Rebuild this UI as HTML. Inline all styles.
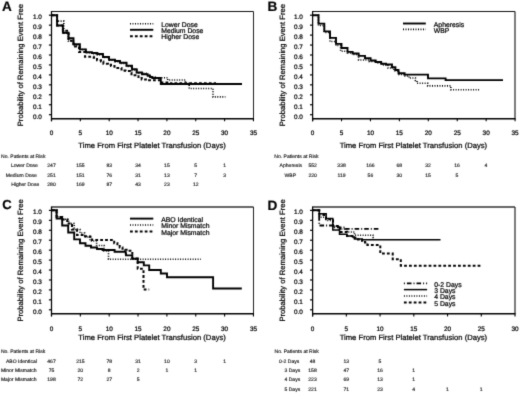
<!DOCTYPE html><html><head><meta charset="utf-8"><style>
html,body{margin:0;padding:0;background:#fff;width:520px;height:393px;overflow:hidden}
svg{filter:grayscale(1)}
svg{display:block} text{font-family:"Liberation Sans", sans-serif;fill:#222;text-rendering:geometricPrecision}
.yt{font-size:6.4px;text-anchor:end;fill:#000;stroke:#000;stroke-width:0.22px}
.xt{font-size:6.4px;text-anchor:middle;fill:#000;stroke:#000;stroke-width:0.22px}
.at{font-size:7.65px;text-anchor:middle;fill:#000;stroke:#000;stroke-width:0.22px}
.lt{font-size:13.6px;font-weight:bold;fill:#000;stroke:#000;stroke-width:0.18px}
.lg{font-size:6.85px;fill:#000;stroke:#000;stroke-width:0.22px}
.tb{font-size:5.05px;fill:#111;stroke:#111;stroke-width:0.14px}
.tn{font-size:5.05px;fill:#111;stroke:#111;stroke-width:0.14px;text-anchor:middle}
</style></head><body>
<svg width="520" height="393" viewBox="0 0 520 393">
<defs><filter id="bl" x="0" y="0" width="520" height="393" filterUnits="userSpaceOnUse" color-interpolation-filters="sRGB"><feConvolveMatrix order="3" kernelMatrix="0.01440 0.09120 0.01440 0.09120 0.57760 0.09120 0.01440 0.09120 0.01440" divisor="1" edgeMode="none"/></filter></defs>
<rect width="520" height="393" fill="#fff"/><g filter="url(#bl)">
<path d="M51.5 11.5H253.5" fill="none" stroke="#111" stroke-width="1.0"/>
<path d="M253.5 11.5V118.65" fill="none" stroke="#222" stroke-width="1.0"/>
<path d="M51.5 11V121.25" stroke="#000" stroke-width="1.25"/>
<path d="M51 118.65H254" stroke="#000" stroke-width="1.45"/>
<path d="M48.9 114.7H51.5" stroke="#000" stroke-width="1.2"/>
<text x="41.8" y="118.6" class="yt">0.0</text>
<path d="M48.9 104.75H51.5" stroke="#000" stroke-width="1.2"/>
<text x="41.8" y="108.65" class="yt">0.1</text>
<path d="M48.9 94.8H51.5" stroke="#000" stroke-width="1.2"/>
<text x="41.8" y="98.7" class="yt">0.2</text>
<path d="M48.9 84.85H51.5" stroke="#000" stroke-width="1.2"/>
<text x="41.8" y="88.75" class="yt">0.3</text>
<path d="M48.9 74.9H51.5" stroke="#000" stroke-width="1.2"/>
<text x="41.8" y="78.8" class="yt">0.4</text>
<path d="M48.9 64.95H51.5" stroke="#000" stroke-width="1.2"/>
<text x="41.8" y="68.85" class="yt">0.5</text>
<path d="M48.9 55H51.5" stroke="#000" stroke-width="1.2"/>
<text x="41.8" y="58.9" class="yt">0.6</text>
<path d="M48.9 45.05H51.5" stroke="#000" stroke-width="1.2"/>
<text x="41.8" y="48.95" class="yt">0.7</text>
<path d="M48.9 35.1H51.5" stroke="#000" stroke-width="1.2"/>
<text x="41.8" y="39" class="yt">0.8</text>
<path d="M48.9 25.15H51.5" stroke="#000" stroke-width="1.2"/>
<text x="41.8" y="29.05" class="yt">0.9</text>
<path d="M48.9 15.2H51.5" stroke="#000" stroke-width="1.2"/>
<text x="41.8" y="19.1" class="yt">1.0</text>
<path d="M51.5 118.65V121.25" stroke="#000" stroke-width="1.1"/>
<text x="51.5" y="135.45" class="xt">0</text>
<path d="M80.35 118.65V121.25" stroke="#000" stroke-width="1.1"/>
<text x="80.35" y="135.45" class="xt">5</text>
<path d="M109.2 118.65V121.25" stroke="#000" stroke-width="1.1"/>
<text x="109.2" y="135.45" class="xt">10</text>
<path d="M138.05 118.65V121.25" stroke="#000" stroke-width="1.1"/>
<text x="138.05" y="135.45" class="xt">15</text>
<path d="M166.9 118.65V121.25" stroke="#000" stroke-width="1.1"/>
<text x="166.9" y="135.45" class="xt">20</text>
<path d="M195.75 118.65V121.25" stroke="#000" stroke-width="1.1"/>
<text x="195.75" y="135.45" class="xt">25</text>
<path d="M224.6 118.65V121.25" stroke="#000" stroke-width="1.1"/>
<text x="224.6" y="135.45" class="xt">30</text>
<path d="M253.45 118.65V121.25" stroke="#000" stroke-width="1.1"/>
<text x="253.45" y="135.45" class="xt">35</text>
<text x="152.1" y="147.5" class="at">Time From First Platelet Transfusion (Days)</text>
<text transform="translate(23 65.08) rotate(-90)" x="0" y="0" class="at">Probability of Remaining Event Free</text>
<text x="2" y="10.75" class="lt">A</text>
<path d="M312.6 11.5H515" fill="none" stroke="#111" stroke-width="1.0"/>
<path d="M515 11.5V118.65" fill="none" stroke="#333" stroke-width="1.3"/>
<path d="M312.6 11V121.25" stroke="#000" stroke-width="1.25"/>
<path d="M312.1 118.65H515.5" stroke="#000" stroke-width="1.45"/>
<path d="M310 114.7H312.6" stroke="#000" stroke-width="1.2"/>
<text x="302.9" y="118.6" class="yt">0.0</text>
<path d="M310 104.75H312.6" stroke="#000" stroke-width="1.2"/>
<text x="302.9" y="108.65" class="yt">0.1</text>
<path d="M310 94.8H312.6" stroke="#000" stroke-width="1.2"/>
<text x="302.9" y="98.7" class="yt">0.2</text>
<path d="M310 84.85H312.6" stroke="#000" stroke-width="1.2"/>
<text x="302.9" y="88.75" class="yt">0.3</text>
<path d="M310 74.9H312.6" stroke="#000" stroke-width="1.2"/>
<text x="302.9" y="78.8" class="yt">0.4</text>
<path d="M310 64.95H312.6" stroke="#000" stroke-width="1.2"/>
<text x="302.9" y="68.85" class="yt">0.5</text>
<path d="M310 55H312.6" stroke="#000" stroke-width="1.2"/>
<text x="302.9" y="58.9" class="yt">0.6</text>
<path d="M310 45.05H312.6" stroke="#000" stroke-width="1.2"/>
<text x="302.9" y="48.95" class="yt">0.7</text>
<path d="M310 35.1H312.6" stroke="#000" stroke-width="1.2"/>
<text x="302.9" y="39" class="yt">0.8</text>
<path d="M310 25.15H312.6" stroke="#000" stroke-width="1.2"/>
<text x="302.9" y="29.05" class="yt">0.9</text>
<path d="M310 15.2H312.6" stroke="#000" stroke-width="1.2"/>
<text x="302.9" y="19.1" class="yt">1.0</text>
<path d="M312.6 118.65V121.25" stroke="#000" stroke-width="1.1"/>
<text x="312.6" y="135.45" class="xt">0</text>
<path d="M341.53 118.65V121.25" stroke="#000" stroke-width="1.1"/>
<text x="341.53" y="135.45" class="xt">5</text>
<path d="M370.45 118.65V121.25" stroke="#000" stroke-width="1.1"/>
<text x="370.45" y="135.45" class="xt">10</text>
<path d="M399.38 118.65V121.25" stroke="#000" stroke-width="1.1"/>
<text x="399.38" y="135.45" class="xt">15</text>
<path d="M428.3 118.65V121.25" stroke="#000" stroke-width="1.1"/>
<text x="428.3" y="135.45" class="xt">20</text>
<path d="M457.23 118.65V121.25" stroke="#000" stroke-width="1.1"/>
<text x="457.23" y="135.45" class="xt">25</text>
<path d="M486.15 118.65V121.25" stroke="#000" stroke-width="1.1"/>
<text x="486.15" y="135.45" class="xt">30</text>
<path d="M515.08 118.65V121.25" stroke="#000" stroke-width="1.1"/>
<text x="515.08" y="135.45" class="xt">35</text>
<text x="413.4" y="147.5" class="at">Time From First Platelet Transfusion (Days)</text>
<text transform="translate(285 65.08) rotate(-90)" x="0" y="0" class="at">Probability of Remaining Event Free</text>
<text x="267.4" y="10.85" class="lt">B</text>
<path d="M51.5 207H253.5" fill="none" stroke="#333" stroke-width="1.4"/>
<path d="M253.5 207V313.8" fill="none" stroke="#222" stroke-width="1.0"/>
<path d="M51.5 206.5V316.4" stroke="#000" stroke-width="1.25"/>
<path d="M51 313.8H254" stroke="#000" stroke-width="1.45"/>
<path d="M48.9 309.8H51.5" stroke="#000" stroke-width="1.2"/>
<text x="41.8" y="313.7" class="yt">0.0</text>
<path d="M48.9 299.86H51.5" stroke="#000" stroke-width="1.2"/>
<text x="41.8" y="303.76" class="yt">0.1</text>
<path d="M48.9 289.92H51.5" stroke="#000" stroke-width="1.2"/>
<text x="41.8" y="293.82" class="yt">0.2</text>
<path d="M48.9 279.98H51.5" stroke="#000" stroke-width="1.2"/>
<text x="41.8" y="283.88" class="yt">0.3</text>
<path d="M48.9 270.04H51.5" stroke="#000" stroke-width="1.2"/>
<text x="41.8" y="273.94" class="yt">0.4</text>
<path d="M48.9 260.1H51.5" stroke="#000" stroke-width="1.2"/>
<text x="41.8" y="264" class="yt">0.5</text>
<path d="M48.9 250.16H51.5" stroke="#000" stroke-width="1.2"/>
<text x="41.8" y="254.06" class="yt">0.6</text>
<path d="M48.9 240.22H51.5" stroke="#000" stroke-width="1.2"/>
<text x="41.8" y="244.12" class="yt">0.7</text>
<path d="M48.9 230.28H51.5" stroke="#000" stroke-width="1.2"/>
<text x="41.8" y="234.18" class="yt">0.8</text>
<path d="M48.9 220.34H51.5" stroke="#000" stroke-width="1.2"/>
<text x="41.8" y="224.24" class="yt">0.9</text>
<path d="M48.9 210.4H51.5" stroke="#000" stroke-width="1.2"/>
<text x="41.8" y="214.3" class="yt">1.0</text>
<path d="M51.5 313.8V316.4" stroke="#000" stroke-width="1.1"/>
<text x="51.5" y="330.6" class="xt">0</text>
<path d="M80.35 313.8V316.4" stroke="#000" stroke-width="1.1"/>
<text x="80.35" y="330.6" class="xt">5</text>
<path d="M109.2 313.8V316.4" stroke="#000" stroke-width="1.1"/>
<text x="109.2" y="330.6" class="xt">10</text>
<path d="M138.05 313.8V316.4" stroke="#000" stroke-width="1.1"/>
<text x="138.05" y="330.6" class="xt">15</text>
<path d="M166.9 313.8V316.4" stroke="#000" stroke-width="1.1"/>
<text x="166.9" y="330.6" class="xt">20</text>
<path d="M195.75 313.8V316.4" stroke="#000" stroke-width="1.1"/>
<text x="195.75" y="330.6" class="xt">25</text>
<path d="M224.6 313.8V316.4" stroke="#000" stroke-width="1.1"/>
<text x="224.6" y="330.6" class="xt">30</text>
<path d="M253.45 313.8V316.4" stroke="#000" stroke-width="1.1"/>
<text x="253.45" y="330.6" class="xt">35</text>
<text x="152.1" y="340.2" class="at">Time From First Platelet Transfusion (Days)</text>
<text transform="translate(23 260.4) rotate(-90)" x="0" y="0" class="at">Probability of Remaining Event Free</text>
<text x="2.3" y="209.4" class="lt" style="font-size:13px">C</text>
<path d="M312.6 207H515" fill="none" stroke="#333" stroke-width="1.4"/>
<path d="M515 207V313.8" fill="none" stroke="#333" stroke-width="1.3"/>
<path d="M312.6 206.5V316.4" stroke="#000" stroke-width="1.25"/>
<path d="M312.1 313.8H515.5" stroke="#000" stroke-width="1.45"/>
<path d="M310 309.8H312.6" stroke="#000" stroke-width="1.2"/>
<text x="302.9" y="313.7" class="yt">0.0</text>
<path d="M310 299.86H312.6" stroke="#000" stroke-width="1.2"/>
<text x="302.9" y="303.76" class="yt">0.1</text>
<path d="M310 289.92H312.6" stroke="#000" stroke-width="1.2"/>
<text x="302.9" y="293.82" class="yt">0.2</text>
<path d="M310 279.98H312.6" stroke="#000" stroke-width="1.2"/>
<text x="302.9" y="283.88" class="yt">0.3</text>
<path d="M310 270.04H312.6" stroke="#000" stroke-width="1.2"/>
<text x="302.9" y="273.94" class="yt">0.4</text>
<path d="M310 260.1H312.6" stroke="#000" stroke-width="1.2"/>
<text x="302.9" y="264" class="yt">0.5</text>
<path d="M310 250.16H312.6" stroke="#000" stroke-width="1.2"/>
<text x="302.9" y="254.06" class="yt">0.6</text>
<path d="M310 240.22H312.6" stroke="#000" stroke-width="1.2"/>
<text x="302.9" y="244.12" class="yt">0.7</text>
<path d="M310 230.28H312.6" stroke="#000" stroke-width="1.2"/>
<text x="302.9" y="234.18" class="yt">0.8</text>
<path d="M310 220.34H312.6" stroke="#000" stroke-width="1.2"/>
<text x="302.9" y="224.24" class="yt">0.9</text>
<path d="M310 210.4H312.6" stroke="#000" stroke-width="1.2"/>
<text x="302.9" y="214.3" class="yt">1.0</text>
<path d="M312.6 313.8V316.4" stroke="#000" stroke-width="1.1"/>
<text x="312.6" y="330.6" class="xt">0</text>
<path d="M346.34 313.8V316.4" stroke="#000" stroke-width="1.1"/>
<text x="346.34" y="330.6" class="xt">5</text>
<path d="M380.07 313.8V316.4" stroke="#000" stroke-width="1.1"/>
<text x="380.07" y="330.6" class="xt">10</text>
<path d="M413.81 313.8V316.4" stroke="#000" stroke-width="1.1"/>
<text x="413.81" y="330.6" class="xt">15</text>
<path d="M447.54 313.8V316.4" stroke="#000" stroke-width="1.1"/>
<text x="447.54" y="330.6" class="xt">20</text>
<path d="M481.28 313.8V316.4" stroke="#000" stroke-width="1.1"/>
<text x="481.28" y="330.6" class="xt">25</text>
<path d="M515.01 313.8V316.4" stroke="#000" stroke-width="1.1"/>
<text x="515.01" y="330.6" class="xt">30</text>
<text x="413.4" y="340.2" class="at">Time From First Platelet Transfusion (Days)</text>
<text transform="translate(285 260.4) rotate(-90)" x="0" y="0" class="at">Probability of Remaining Event Free</text>
<text x="267.5" y="209.7" class="lt">D</text>
<path d="M51.5 15.2H57.1V21.1H63.8V33.2H68.3V41H73.4V45.5H80V49.5H86V52.8H92V53.8H97.4V55H103V57.5H109V60.2H115V61.8H120V63.5H126.5V66.5H132V70H137V73.3H146V75H150.8V77H155V77.7H167.7V80H185.4V83.5H189.2V88.5H213V96.9H225.4" stroke="#000" stroke-width="1.6" fill="none" stroke-dasharray="1 1.5"/>
<path d="M51.5 15.2H57.1V25.5H62.9V30.8H68.6V40.8H73.5V46.5H79V52H85V56.8H93.7V57.7H97V60.2H101V61.4H103.4V63.7H108V64.8H111V66H114.5V67.9H121.5V70.6H125.5V71.1H130V72.5H131.5V75.2H138.5V78H141.7V79.4H147.7V80.3H161.5V82.5H170V83.3H216" stroke="#000" stroke-width="2" fill="none" stroke-dasharray="2.8 2.1"/>
<path d="M51.5 15.2H57.1V25.5H62.9V32.7H68.5V38.3H73.5V44.3H79.9V49.4H85.9V52.2H91.9V53H97.4V54H103V57H109V59.7H115V61H120V62.7H126.5V65.7H132V69.3H136.6V72.5H142V74.3H147.7V75.8H150V77H152.3V78H160.8V84H242" stroke="#000" stroke-width="1.9" fill="none"/>
<path d="M312.7 15.2H318.5V25.5H324.3V32.5H330V41.5H336V45.5H340.6V51.2H347.5V53H352.6V54.5H358.6V60H369V61.5H376V63H382V65H388V68H394V71H399V74.5H405V76H409V78H415.4V80.5H417V83.3H427.7V85.9H450.8V89.8H480" stroke="#000" stroke-width="1.6" fill="none" stroke-dasharray="1 1.5"/>
<path d="M312.7 15.2H318.5V23.6H324.3V31.4H330V37.9H336V43.9H341.5V48H347.5V51.9H352.6V53.5H358.6V55.9H365V58.2H370.6V60.5H375.7V62H381.2V63.7H386V64.5H392V67.2H395.4V70H398.5V73.2H404.6V74.6H428V78.4H445.6V80.1H503" stroke="#000" stroke-width="1.9" fill="none"/>
<path d="M51.5 210.3H56.6V216.8H62.2V219.2H68.6V223.5H74.2V229.5H80V233H84.6V237H90V241H96.6V245.5H104V251H108.5V259.2H200.8" stroke="#000" stroke-width="1.6" fill="none" stroke-dasharray="1 1.5"/>
<path d="M51.5 210.3H56.6V217H62.2V219.5H67.2V223.5H72V229.5H77V235H85V236.3H89.7V236.8H92V240H114.2V243.2H117.4V244.2H119.7V247.4H122.5V248.8H125V249.7H128V250.8H132.3V258.5H137.7V268.8H143.5V289.6H149.2" stroke="#000" stroke-width="2" fill="none" stroke-dasharray="2.8 2.1"/>
<path d="M51.5 210.3H56.6V218.6H62.2V225.5H68.2V232.5H74.2V239.4H80V243.3H85.5V245.8H91V247.5H97V249H102.6V250H114.6V251.8H125.7V253.5H126V255.4H132.3V258.8H137.7V262.3H143.8V265.4H149.2V270H160.8V273.5H167V277.2H213.1V288.5H241.8" stroke="#000" stroke-width="1.9" fill="none"/>
<path d="M312.5 210.3H319.3V217.2H326V220.5H333V226H339V229H347V232H354.5V235.2H373V237.5H375" stroke="#000" stroke-width="1.6" fill="none" stroke-dasharray="1 1.5"/>
<path d="M312.5 210.3H319.3V215H326V219H333V226H340V232H347V236H354.5V237.8H358V239.4H362V240.8H365V242.6H367.4V245H380.3V253.5H392.7V259.2H400.8V265.7H480.4" stroke="#000" stroke-width="2" fill="none" stroke-dasharray="2.8 2.1"/>
<path d="M312.5 210.3H319.2V225.5H334.6V227.3H345.2V228.8H378.5" stroke="#000" stroke-width="1.8" fill="none" stroke-dasharray="1 2 4.6 2"/>
<path d="M312.5 210.3H319.3V213.8H326.2V218.4H332.8V229.9H339.5V234.2H347V236H352.6V237H354.5V239H362V239.8H440.5" stroke="#000" stroke-width="1.5" fill="none"/>
<path d="M130 23.8H153.3" stroke="#000" stroke-width="1.6" fill="none" stroke-dasharray="1 1.5"/>
<text x="161.2" y="26.9" class="lg">Lower Dose</text>
<path d="M130 29.8H153.3" stroke="#000" stroke-width="1.9" fill="none"/>
<text x="161.2" y="32.9" class="lg">Medium Dose</text>
<path d="M130 36.2H153.3" stroke="#000" stroke-width="2" fill="none" stroke-dasharray="2.8 2.1"/>
<text x="161.2" y="39.3" class="lg">Higher Dose</text>
<path d="M403 23.5H425.8" stroke="#000" stroke-width="1.9" fill="none"/>
<text x="433.8" y="26.6" class="lg">Apheresis</text>
<path d="M403 29.4H425.8" stroke="#000" stroke-width="1.6" fill="none" stroke-dasharray="1 1.5"/>
<text x="433.8" y="32.5" class="lg">WBP</text>
<path d="M130 218.6H153.3" stroke="#000" stroke-width="1.9" fill="none"/>
<text x="161.2" y="221.7" class="lg">ABO Identical</text>
<path d="M130 225H153.3" stroke="#000" stroke-width="1.6" fill="none" stroke-dasharray="1 1.5"/>
<text x="161.2" y="228.1" class="lg">Minor Mismatch</text>
<path d="M130 231.5H153.3" stroke="#000" stroke-width="2" fill="none" stroke-dasharray="2.8 2.1"/>
<text x="161.2" y="234.6" class="lg">Major Mismatch</text>
<path d="M403.9 283.4H427.1" stroke="#000" stroke-width="1.8" fill="none" stroke-dasharray="1 2 4.6 2"/>
<text x="434.2" y="286.5" class="lg">0-2 Days</text>
<path d="M403.9 289.6H427.1" stroke="#000" stroke-width="1.5" fill="none"/>
<text x="434.2" y="292.7" class="lg">3 Days</text>
<path d="M403.9 296H427.1" stroke="#000" stroke-width="1.6" fill="none" stroke-dasharray="1 1.5"/>
<text x="434.2" y="299.1" class="lg">4 Days</text>
<path d="M403.9 302.4H427.1" stroke="#000" stroke-width="2" fill="none" stroke-dasharray="2.8 2.1"/>
<text x="434.2" y="305.5" class="lg">5 Days</text>
<text x="1.1" y="157.5" class="tb">No. Patients at Risk</text>
<text x="11" y="167.4" class="tb">Lower Dose</text>
<text x="51.5" y="167.4" class="tn">247</text>
<text x="80.35" y="167.4" class="tn">155</text>
<text x="109.2" y="167.4" class="tn">83</text>
<text x="138.05" y="167.4" class="tn">34</text>
<text x="166.9" y="167.4" class="tn">15</text>
<text x="195.75" y="167.4" class="tn">5</text>
<text x="224.6" y="167.4" class="tn">1</text>
<text x="5.8" y="176.9" class="tb">Medium Dose</text>
<text x="51.5" y="176.9" class="tn">251</text>
<text x="80.35" y="176.9" class="tn">151</text>
<text x="109.2" y="176.9" class="tn">76</text>
<text x="138.05" y="176.9" class="tn">31</text>
<text x="166.9" y="176.9" class="tn">13</text>
<text x="195.75" y="176.9" class="tn">7</text>
<text x="224.6" y="176.9" class="tn">3</text>
<text x="11.2" y="186.3" class="tb">Higher Dose</text>
<text x="51.5" y="186.3" class="tn">280</text>
<text x="80.35" y="186.3" class="tn">169</text>
<text x="109.2" y="186.3" class="tn">87</text>
<text x="138.05" y="186.3" class="tn">43</text>
<text x="166.9" y="186.3" class="tn">23</text>
<text x="195.75" y="186.3" class="tn">12</text>
<text x="274.3" y="157.8" class="tb">No. Patients at Risk</text>
<text x="279.6" y="167.1" class="tb">Apheresis</text>
<text x="312.7" y="167.1" class="tn">552</text>
<text x="341.55" y="167.1" class="tn">338</text>
<text x="370.4" y="167.1" class="tn">166</text>
<text x="399.25" y="167.1" class="tn">68</text>
<text x="428.1" y="167.1" class="tn">32</text>
<text x="456.95" y="167.1" class="tn">16</text>
<text x="485.8" y="167.1" class="tn">4</text>
<text x="284.5" y="176.8" class="tb">WBP</text>
<text x="312.7" y="176.8" class="tn">220</text>
<text x="341.55" y="176.8" class="tn">119</text>
<text x="370.4" y="176.8" class="tn">56</text>
<text x="399.25" y="176.8" class="tn">30</text>
<text x="428.1" y="176.8" class="tn">15</text>
<text x="456.95" y="176.8" class="tn">5</text>
<text x="0.9" y="353" class="tb">No. Patients at Risk</text>
<text x="6" y="362.5" class="tb">ABO Identical</text>
<text x="51.5" y="362.5" class="tn">467</text>
<text x="80.35" y="362.5" class="tn">215</text>
<text x="109.2" y="362.5" class="tn">78</text>
<text x="138.05" y="362.5" class="tn">31</text>
<text x="166.9" y="362.5" class="tn">10</text>
<text x="195.75" y="362.5" class="tn">3</text>
<text x="224.6" y="362.5" class="tn">1</text>
<text x="0.9" y="372" class="tb">Minor Mismatch</text>
<text x="51.5" y="372" class="tn">75</text>
<text x="80.35" y="372" class="tn">20</text>
<text x="109.2" y="372" class="tn">8</text>
<text x="138.05" y="372" class="tn">2</text>
<text x="166.9" y="372" class="tn">1</text>
<text x="195.75" y="372" class="tn">1</text>
<text x="0.9" y="381.3" class="tb">Major Mismatch</text>
<text x="51.5" y="381.3" class="tn">198</text>
<text x="80.35" y="381.3" class="tn">72</text>
<text x="109.2" y="381.3" class="tn">27</text>
<text x="138.05" y="381.3" class="tn">5</text>
<text x="274.5" y="353" class="tb">No. Patients at Risk</text>
<text x="279.1" y="362.5" class="tb">0-2 Days</text>
<text x="312.5" y="362.5" class="tn">48</text>
<text x="346.25" y="362.5" class="tn">13</text>
<text x="380" y="362.5" class="tn">5</text>
<text x="284.5" y="372" class="tb">3 Days</text>
<text x="312.5" y="372" class="tn">158</text>
<text x="346.25" y="372" class="tn">47</text>
<text x="380" y="372" class="tn">16</text>
<text x="413.75" y="372" class="tn">1</text>
<text x="284.5" y="381.4" class="tb">4 Days</text>
<text x="312.5" y="381.4" class="tn">223</text>
<text x="346.25" y="381.4" class="tn">69</text>
<text x="380" y="381.4" class="tn">13</text>
<text x="413.75" y="381.4" class="tn">1</text>
<text x="284.5" y="390.8" class="tb">5 Days</text>
<text x="312.5" y="390.8" class="tn">221</text>
<text x="346.25" y="390.8" class="tn">71</text>
<text x="380" y="390.8" class="tn">23</text>
<text x="413.75" y="390.8" class="tn">4</text>
<text x="447.5" y="390.8" class="tn">1</text>
<text x="481.25" y="390.8" class="tn">1</text>
</g></svg></body></html>
